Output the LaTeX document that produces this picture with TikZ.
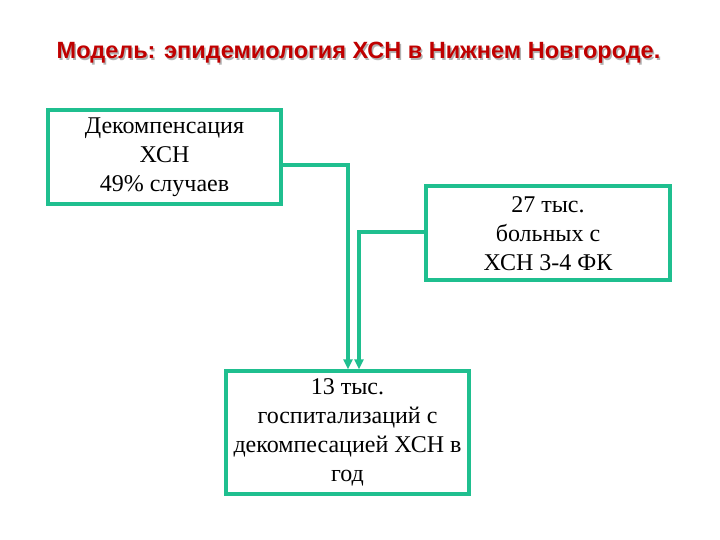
\documentclass[tikz,border=0pt]{standalone}
\usepackage{fontspec}
\setmainfont{Liberation Serif}
\newfontfamily\titlefont{Liberation Sans}
\usetikzlibrary{arrows.meta}
\definecolor{tealg}{HTML}{1FBF8F}
\definecolor{tred}{HTML}{C00000}
\begin{document}
\begin{tikzpicture}[x=1pt,y=-1pt,
  boxst/.style={draw=tealg,line width=3.2pt,inner sep=0pt},
  txt/.style={align=center,font=\fontsize{24}{29}\selectfont,anchor=north},
  conn/.style={draw=tealg,line width=3.2pt,-{Triangle[length=10pt,width=9pt]}}]
\useasboundingbox (0,0) rectangle (720,540);
\node[text=gray!60,font=\titlefont\bfseries\fontsize{23.5}{26}\selectfont] at (360,55) {Модель: эпидемиология ХСН в Нижнем Новгороде.};
\node (title) [text=tred,font=\titlefont\bfseries\fontsize{23.5}{26}\selectfont] at (358.5,53) {Модель: эпидемиология ХСН в Нижнем Новгороде.};
\node (b1) [boxst,minimum width=233pt,minimum height=94pt] at (164.5,157) {};
\node[txt] at (164.5,114) {Декомпенсация\\ХСН\\49\% случаев};
\node (b2) [boxst,minimum width=244pt,minimum height=94pt] at (548,233) {};
\node[txt] at (548,193) {27 тыс.\\больных с\\ХСН 3-4 ФК};
\node (b3) [boxst,minimum width=243pt,minimum height=123pt] at (347.5,432.5) {};
\node[txt] at (347.5,375) {13 тыс.\\госпитализаций с\\декомпесацией ХСН в\\год};
\coordinate (k1) at (348,165);
\coordinate (k2) at (359,232);
\draw[conn] (b1.east |- k1) -- (k1) -- (k1 |- b3.north);
\draw[conn] (b2.west |- k2) -- (k2) -- (k2 |- b3.north);
\end{tikzpicture}
\end{document}
